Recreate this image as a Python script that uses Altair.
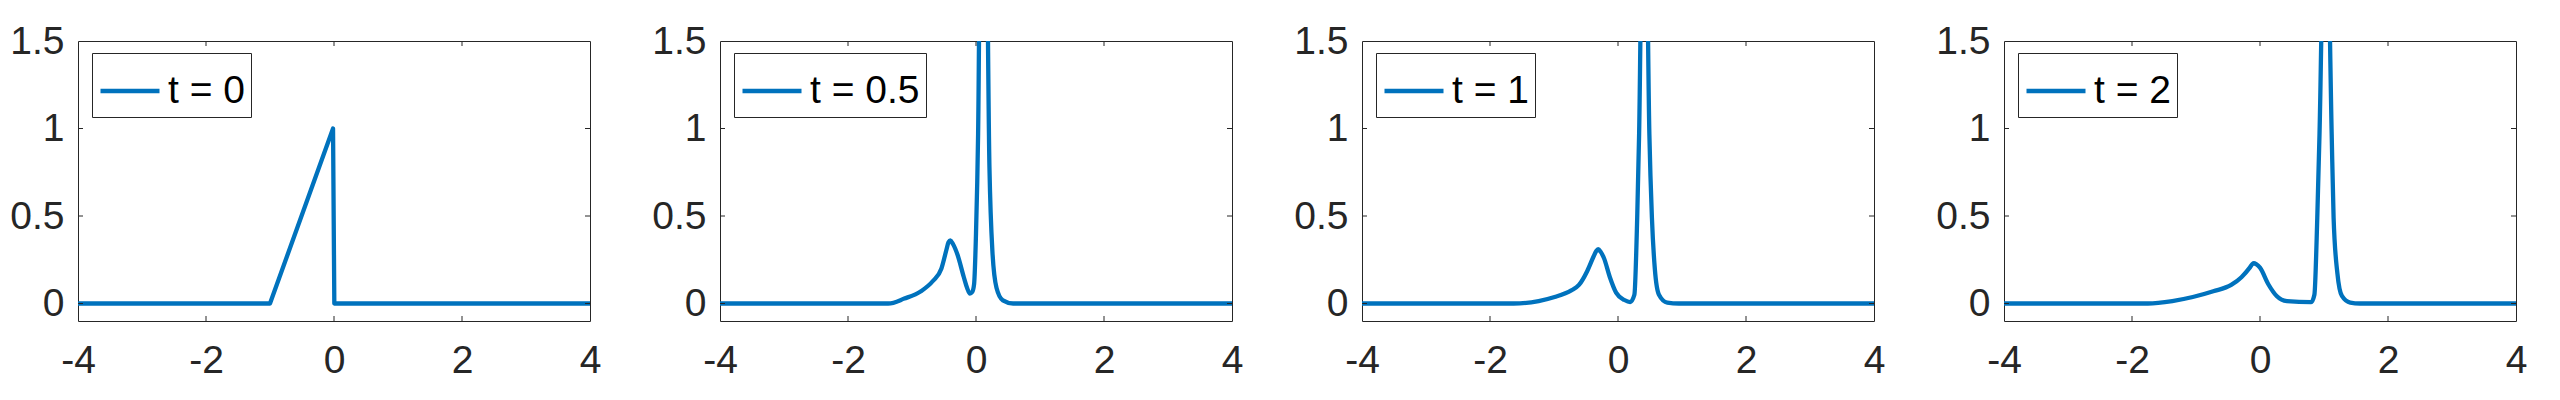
import altair as alt
import pandas as pd

# ---- data ----
labels = ["t = 0", "t = 0.5", "t = 1", "t = 2"]

x_t0 = [-4, -1, -0.015, 0.005, 4]
y_t0 = [0, 0, 1, 0, 0]

x_t05 = [-4, -1.37, -1.12, -0.86, -0.67, -0.54, -0.46, -0.43, -0.40, -0.36, -0.29, -0.19, -0.14,
         -0.095, -0.06, -0.03, 0.0, 0.033, 0.11, 0.21, 0.256, 0.32, 0.42, 0.58, 4]
y_t05 = [0, 0, 0.028, 0.07, 0.13, 0.2, 0.31, 0.35, 0.36, 0.34, 0.28, 0.15, 0.09,
         0.056, 0.065, 0.11, 0.40, 0.97, 4.3, 0.78, 0.30, 0.09, 0.018, 0, 0]

x_t1 = [-4, -1.63, -1.24, -0.99, -0.73, -0.61, -0.48, -0.38, -0.34, -0.31, -0.27, -0.22, -0.127,
        -0.03, 0.10, 0.19, 0.256, 0.30, 0.33, 0.41, 0.49, 0.53, 0.575, 0.64, 0.77, 0.95, 4]
y_t1 = [0, 0, 0.014, 0.037, 0.075, 0.106, 0.186, 0.27, 0.30, 0.31, 0.295, 0.26, 0.15,
        0.062, 0.02, 0.008, 0.05, 0.49, 0.97, 3.09, 0.97, 0.49, 0.2, 0.05, 0.005, 0, 0]

x_t2 = [-4, -1.75, -1.37, -1.05, -0.73, -0.45, -0.29, -0.16, -0.12, -0.095, -0.06, 0.0, 0.13,
        0.26, 0.42, 0.80, 0.85, 0.895, 0.93, 1.025, 1.12, 1.15, 1.21, 1.28, 1.41, 1.56, 4]
y_t2 = [0, 0, 0.014, 0.037, 0.07, 0.106, 0.15, 0.205, 0.225, 0.23, 0.225, 0.205, 0.11,
        0.043, 0.014, 0.008, 0.05, 0.49, 0.97, 2.65, 0.97, 0.49, 0.17, 0.043, 0.005, 0, 0]

x_tick_labels = [-4, -2, 0, 2, 4]
y_tick_labels = [0, 0.5, 1, 1.5]
x_inner_ticks = [-2, 0, 2]
y_inner_ticks = [0, 0.5, 1]

series = [
    (labels[0], x_t0, y_t0, "linear"),
    (labels[1], x_t05, y_t05, "monotone"),
    (labels[2], x_t1, y_t1, "monotone"),
    (labels[3], x_t2, y_t2, "monotone"),
]

FONT = "Liberation Sans"
FS = 39
BLUE = "#0072BD"
AX = "#262626"
W, H = 512, 280
TL = 5

xs_scale = alt.Scale(domain=[-4, 4], nice=False, zero=False)
ys_scale = alt.Scale(domain=[-0.1, 1.5], nice=False, zero=False)
x_axis = alt.Axis(values=x_tick_labels, title=None, labelExpr="datum.value + ''",
                  labelFlush=False, labelOverlap=False, labelPadding=20)
y_axis = alt.Axis(values=y_tick_labels, title=None, labelExpr="datum.value + ''",
                  labelOverlap=False, labelPadding=14)


def panel(label, xs, ys, interp):
    df = pd.DataFrame({"x": xs, "y": ys, "label": label})
    line = alt.Chart(df).mark_line(strokeWidth=4.3, clip=True, interpolate=interp,
                                   strokeJoin="round").encode(
        x=alt.X("x:Q", scale=xs_scale, axis=x_axis),
        y=alt.Y("y:Q", scale=ys_scale, axis=y_axis),
        color=alt.Color("label:N", scale=alt.Scale(range=[BLUE]),
                        legend=alt.Legend(orient="none", legendX=14, legendY=12, title=None,
                                          symbolType="stroke", symbolSize=3481,
                                          symbolStrokeWidth=4.3, labelFontSize=FS,
                                          labelFont=FONT, labelColor="black",
                                          strokeColor=AX, fillColor="white",
                                          padding=6, labelOffset=6, cornerRadius=0)),
    )
    xt = pd.DataFrame({"v": x_inner_ticks})
    yt = pd.DataFrame({"v": y_inner_ticks})
    top = alt.Chart(xt).mark_rule(color=AX, strokeWidth=1).encode(
        x=alt.X("v:Q", scale=xs_scale, axis=x_axis), y=alt.value(0), y2=alt.value(TL))
    bottom = alt.Chart(xt).mark_rule(color=AX, strokeWidth=1).encode(
        x=alt.X("v:Q", scale=xs_scale, axis=x_axis), y=alt.value(H), y2=alt.value(H - TL))
    left = alt.Chart(yt).mark_rule(color=AX, strokeWidth=1).encode(
        y=alt.Y("v:Q", scale=ys_scale, axis=y_axis), x=alt.value(0), x2=alt.value(TL))
    right = alt.Chart(yt).mark_rule(color=AX, strokeWidth=1).encode(
        y=alt.Y("v:Q", scale=ys_scale, axis=y_axis), x=alt.value(W), x2=alt.value(W - TL))
    return alt.layer(line, top, bottom, left, right).properties(width=W, height=H)


chart = alt.hconcat(*[panel(*s) for s in series], spacing=49).resolve_scale(
    color="independent").resolve_legend(color="independent").properties(
    padding={"left": 1, "top": 13, "right": 5, "bottom": 5}, background="white"
).configure_view(stroke=AX, strokeWidth=1).configure_axis(
    grid=False, domain=False, ticks=False, labelFont=FONT, labelFontSize=FS, labelColor=AX
)

chart.save("out.html", embed_options={"renderer": "svg", "actions": False})
